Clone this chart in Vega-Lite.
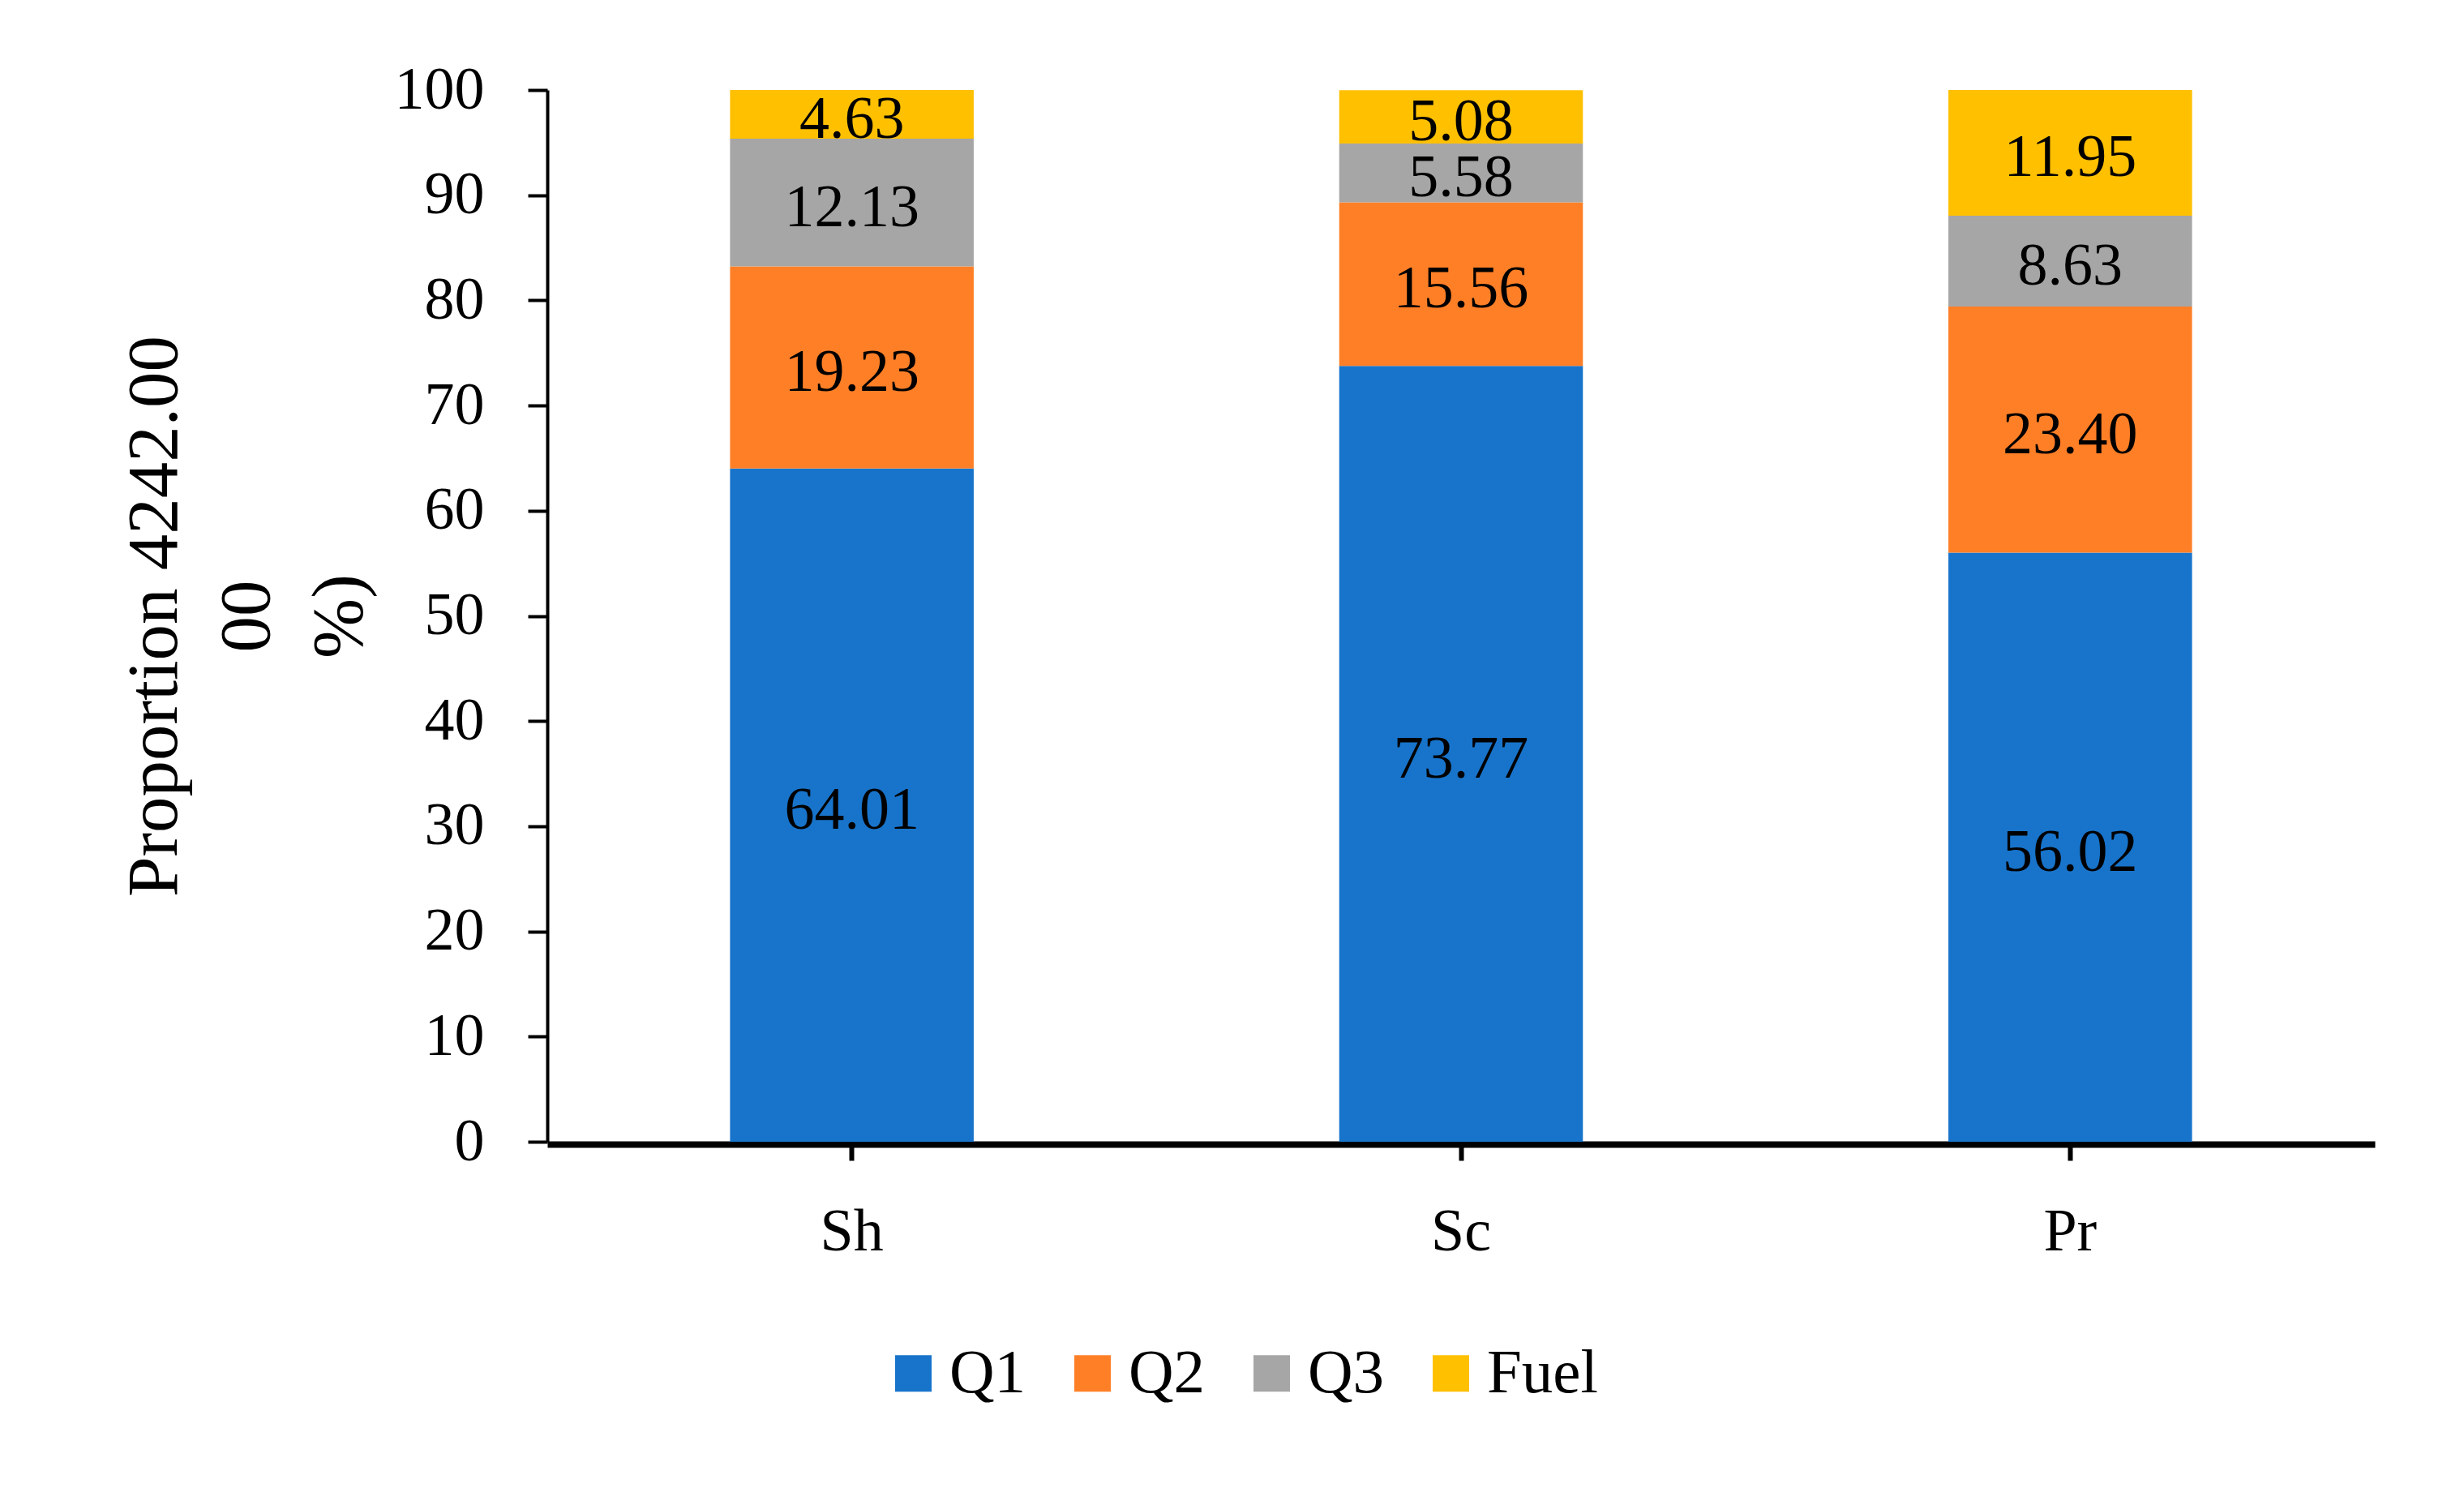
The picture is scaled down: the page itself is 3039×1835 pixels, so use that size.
{
  "$schema": "https://vega.github.io/schema/vega-lite/v6.json",
  "autosize": {"type": "none"},
  "padding": {"left": 675, "top": 111, "right": 110, "bottom": 427},
  "width": 2254,
  "height": 1297,
  "background": "white",
  "data": {
    "values": [
      {"site": "Sh", "part": "Q1", "rank": 1, "value": 64.01},
      {"site": "Sh", "part": "Q2", "rank": 2, "value": 19.23},
      {"site": "Sh", "part": "Q3", "rank": 3, "value": 12.13},
      {"site": "Sh", "part": "Fuel", "rank": 4, "value": 4.63},
      {"site": "Sc", "part": "Q1", "rank": 1, "value": 73.77},
      {"site": "Sc", "part": "Q2", "rank": 2, "value": 15.56},
      {"site": "Sc", "part": "Q3", "rank": 3, "value": 5.58},
      {"site": "Sc", "part": "Fuel", "rank": 4, "value": 5.08},
      {"site": "Pr", "part": "Q1", "rank": 1, "value": 56.02},
      {"site": "Pr", "part": "Q2", "rank": 2, "value": 23.40},
      {"site": "Pr", "part": "Q3", "rank": 3, "value": 8.63},
      {"site": "Pr", "part": "Fuel", "rank": 4, "value": 11.95}
    ]
  },
  "encoding": {
    "x": {
      "field": "site",
      "type": "nominal",
      "sort": ["Sh", "Sc", "Pr"],
      "scale": {"paddingInner": 0.6, "paddingOuter": 0.3},
      "axis": {
        "title": null,
        "labelAngle": 0,
        "labelFontSize": 74,
        "labelColor": "black",
        "labelPadding": 52,
        "domainColor": "black",
        "domainWidth": 8,
        "tickColor": "black",
        "tickWidth": 6,
        "tickSize": 20,
        "offset": 3,
        "grid": false
      }
    },
    "order": {"field": "rank", "type": "quantitative", "sort": "ascending"}
  },
  "layer": [
    {
      "mark": {"type": "bar"},
      "encoding": {
        "y": {
          "field": "value",
          "type": "quantitative",
          "stack": "zero",
          "scale": {"domain": [0, 100], "nice": false},
          "axis": {
            "title": ["Proportion 4242.00", "00", "%)"],
            "titleFontSize": 89,
            "titleFontWeight": "normal",
            "titleColor": "black",
            "titleLineHeight": 114,
            "titleX": -485,
            "titleBaseline": "middle",
            "values": [0, 10, 20, 30, 40, 50, 60, 70, 80, 90, 100],
            "labelFontSize": 74,
            "labelColor": "black",
            "labelPadding": 54,
            "domainColor": "black",
            "domainWidth": 4,
            "tickColor": "black",
            "tickWidth": 4,
            "tickSize": 24,
            "grid": false
          }
        },
        "color": {
          "field": "part",
          "type": "nominal",
          "scale": {
            "domain": ["Q1", "Q2", "Q3", "Fuel"],
            "range": ["#1874CB", "#FF7F27", "#A6A6A6", "#FFC000"]
          },
          "legend": {
            "title": null,
            "orient": "none",
            "direction": "horizontal",
            "legendX": 413,
            "legendY": 1544,
            "symbolType": "square",
            "symbolSize": 2025,
            "symbolStrokeWidth": 0,
            "symbolOpacity": 1,
            "labelFontSize": 77,
            "labelColor": "black",
            "labelOffset": 6,
            "columnPadding": 43,
            "padding": 0
          }
        }
      }
    },
    {
      "mark": {"type": "text", "fontSize": 74, "color": "black", "baseline": "middle", "dy": 7},
      "encoding": {
        "y": {"field": "value", "type": "quantitative", "stack": "zero", "bandPosition": 0.5},
        "detail": {"field": "part"},
        "text": {"field": "value", "type": "quantitative", "format": ".2f"}
      }
    }
  ],
  "config": {
    "font": "Liberation Serif",
    "view": {"stroke": null}
  }
}
